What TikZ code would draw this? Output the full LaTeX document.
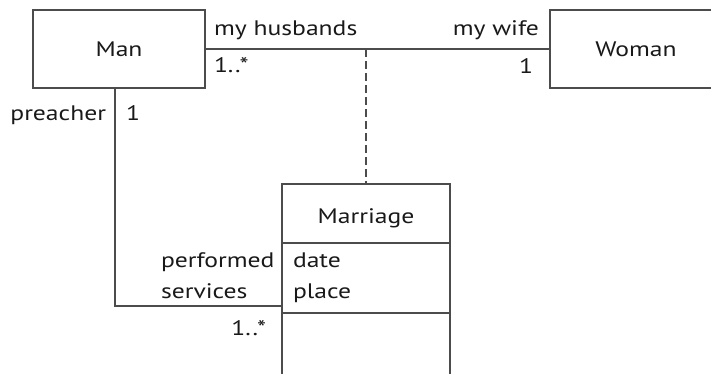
\documentclass[tikz,border=0pt]{standalone}
\usepackage{fontspec}
\setmainfont{PT Sans}[FakeStretch=1.22]
\begin{document}
\begin{tikzpicture}[x=1pt,y=-1pt,
  line width=2pt,
  every node/.style={text=black!90},
  cls/.style={draw=black!70, minimum width=172pt, minimum height=78pt, inner sep=0pt, font=\fontsize{21}{24}\selectfont},
  lbl/.style={inner sep=0pt, font=\fontsize{21}{24}\selectfont},
  conn/.style={draw=black!70, line width=2pt},
  dsh/.style={draw=black!70, line width=2pt, dash pattern=on 8pt off 4pt}]
\useasboundingbox (0,0) rectangle (711,373);
\node[cls] (man) at (119,49) {Man};
\node[cls] (woman) at (636,49) {Woman};
\node[draw=black!70, minimum width=168pt, minimum height=216pt, inner sep=0pt] (marriage) at (366,292) {};
\coordinate (div1) at (282,243);
\coordinate (div2) at (282,313);
\draw[conn] (div1) -- (div1 -| marriage.east);
\draw[conn] (div2) -- (div2 -| marriage.east);
\node[lbl, anchor=base] (mname) at (366,223) {Marriage};
\node[lbl, anchor=base west] (date) at (292,267) {date};
\node[lbl, anchor=base west] (place) at (292,298) {place};
% association Man - Woman
\draw[conn] (man.east) -- (woman.west);
\coordinate (assoc) at (366,49);
\draw[dsh] (assoc) -- (marriage.north);
\node[lbl, anchor=base west] (husb) at (213,35) {my husbands};
\node[lbl, anchor=base west] (husbm) at (213,72) {1..*};
\node[lbl, anchor=base east] (wife) at (540,35) {my wife};
\node[lbl, anchor=base east] (wifem) at (534,73) {1};
% preacher association
\coordinate (bend) at (115,306);
\draw[conn] (man.south -| bend) -- (bend) -- (bend -| marriage.west);
\node[lbl, anchor=base east] (preacher) at (107,120) {preacher};
\node[lbl, anchor=base west] (prem) at (125,120) {1};
\node[lbl, anchor=base west] (perf) at (160,267) {performed};
\node[lbl, anchor=base west] (serv) at (160,298) {services};
\node[lbl, anchor=base east] (servm) at (267,335) {1..*};
\end{tikzpicture}
\end{document}
